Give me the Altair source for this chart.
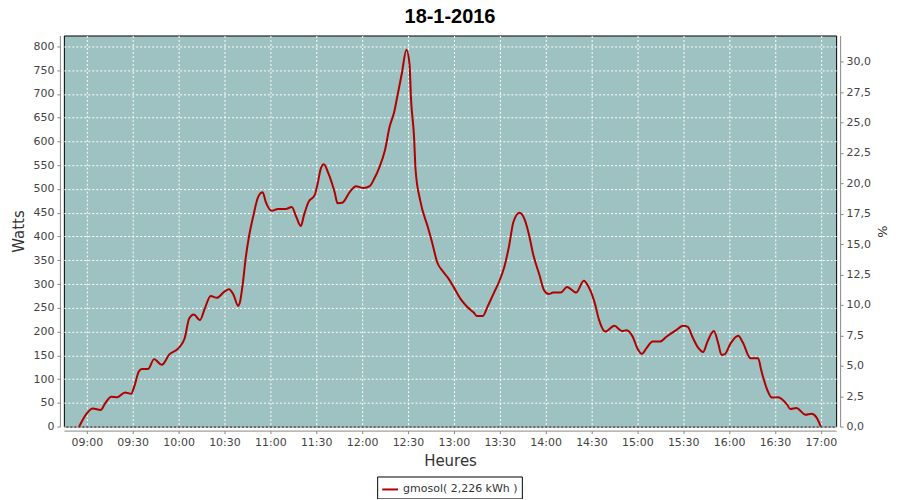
import altair as alt
import pandas as pd

# ---- data ----
times = ["08:55", "09:00", "09:04", "09:09", "09:12", "09:16", "09:20", "09:25", "09:29", "09:31",
         "09:34", "09:36", "09:40", "09:44", "09:49", "09:54", "10:00", "10:04", "10:07", "10:10",
         "10:14", "10:17", "10:21", "10:25", "10:30", "10:33", "10:36", "10:39", "10:40", "10:42",
         "10:44", "10:46", "10:49", "10:52", "10:55", "10:57", "11:01", "11:05", "11:10", "11:14",
         "11:17", "11:20", "11:22", "11:25", "11:29", "11:31", "11:33", "11:35", "11:38", "11:42",
         "11:44", "11:47", "11:52", "11:56", "12:01", "12:05", "12:08", "12:11", "12:15", "12:18",
         "12:21", "12:23", "12:26", "12:29", "12:31", "12:32", "12:34", "12:35", "12:38", "12:43",
         "12:46", "12:49", "12:53", "12:56", "13:00", "13:05", "13:09", "13:13", "13:15", "13:19",
         "13:22", "13:26", "13:30", "13:33", "13:36", "13:39", "13:43", "13:46", "13:49", "13:52",
         "13:56", "13:59", "14:02", "14:05", "14:10", "14:14", "14:20", "14:25", "14:28", "14:32",
         "14:35", "14:39", "14:45", "14:50", "14:53", "14:57", "15:00", "15:03", "15:06", "15:10",
         "15:15", "15:19", "15:25", "15:30", "15:33", "15:36", "15:40", "15:43", "15:46", "15:50",
         "15:53", "15:55", "15:57", "16:01", "16:06", "16:09", "16:14", "16:19", "16:21", "16:25",
         "16:28", "16:32", "16:38", "16:40", "16:44", "16:50", "16:54", "16:57", "17:00"]
watts = [0, 28, 38, 35, 49, 63, 62, 72, 69, 84,
         116, 121, 121, 142, 130, 152, 165, 186, 228, 236,
         224, 247, 275, 271, 284, 289, 277, 254, 260, 301,
         357, 399, 445, 483, 493, 473, 454, 458, 458, 462,
         441, 422, 445, 473, 487, 512, 543, 552, 533, 494,
         470, 471, 494, 506, 502, 506, 522, 543, 582, 631,
         662, 694, 743, 793, 764, 690, 609, 540, 476, 420,
         385, 347, 326, 314, 293, 266, 251, 240, 233, 233,
         252, 280, 308, 336, 378, 431, 450, 438, 406, 361,
         319, 287, 279, 282, 282, 294, 282, 307, 295, 262,
         224, 200, 212, 201, 203, 189, 165, 153, 165, 179,
         179, 189, 202, 212, 210, 189, 165, 157, 180, 201,
         174, 151, 152, 175, 191, 177, 144, 144, 119, 77,
         61, 62, 46, 37, 39, 25, 27, 20, 0]
series_name = "gmosol( 2,226 kWh )"
title_text = "18-1-2016"
watt_ticks = list(range(0, 801, 50))
pct_ticks = [0, 2.5, 5, 7.5, 10, 12.5, 15, 17.5, 20, 22.5, 25, 27.5, 30]
hour_ticks = [(h, m) for h in range(9, 17) for m in (0, 30)] + [(17, 0)]

df = pd.DataFrame({
    "time": ["2016-01-18T" + t + ":00" for t in times],
    "watts": watts,
    "series": [series_name] * len(times),
})


def dt(h, m):
    return alt.DateTime(year=2016, month=1, date=18, hours=h, minutes=m)


x_scale = alt.Scale(domain=[dt(8, 45), dt(17, 10)], nice=False)

x_enc = alt.X("time:T", scale=x_scale,
              axis=alt.Axis(title="Heures", format="%H:%M",
                            values=[dt(h, m) for h, m in hour_ticks],
                            grid=True, offset=4, titleFontSize=15, titlePadding=6,
                            labelPadding=3, labelFlush=False, labelOverlap=False))

line = alt.Chart(df).mark_line(strokeWidth=2, interpolate="monotone").encode(
    x=x_enc,
    y=alt.Y("watts:Q", scale=alt.Scale(domain=[0, 823], nice=False, zero=True),
            axis=alt.Axis(title="Watts", values=watt_ticks, grid=True, offset=4,
                          titleFontSize=15, titlePadding=6, labelPadding=3)),
    color=alt.Color("series:N", scale=alt.Scale(range=["#B00000"]),
                    legend=alt.Legend(title=None, orient="none", legendX=314, legendY=442,
                                      symbolType="stroke", symbolStrokeWidth=2, symbolSize=250,
                                      strokeColor="black", fillColor="white", padding=4,
                                      labelFontSize=11, labelColor="#333",
                                      labelFont="DejaVu Sans")),
)

right = alt.Chart(df).mark_line(opacity=0, clip=True).encode(
    x=alt.X("time:T", scale=x_scale),
    y=alt.Y("watts:Q",
            scale=alt.Scale(domain=[0, 32.16], nice=False),
            axis=alt.Axis(title="%", orient="right", values=pct_ticks, grid=False, offset=4,
                          labelExpr="replace(format(datum.value, '.1f'), '.', ',')",
                          titleFontSize=13, titlePadding=4, labelPadding=3)),
)

chart = alt.layer(line, right).resolve_scale(y="independent").properties(
    width=774, height=392,
    background="white",
    autosize=alt.AutoSizeParams(type="none"),
    padding={"left": 56, "top": 27, "right": 56, "bottom": 72},
    title=alt.TitleParams(title_text, fontSize=20, fontWeight="bold", font="Liberation Sans",
                          color="black", anchor="middle", offset=9),
).configure_view(
    fill="#9EC2C1", stroke="black", strokeWidth=1
).configure_axis(
    labelFont="DejaVu Sans", labelFontSize=11, labelColor="#444",
    titleFont="DejaVu Sans", titleColor="#333", titleFontWeight="normal",
    domainColor="#888", tickColor="#888", tickSize=3,
    gridColor="white", gridDash=[2, 2], gridOpacity=1, gridWidth=1,
)

chart.save("out.html", embed_options={"renderer": "svg", "actions": False})
